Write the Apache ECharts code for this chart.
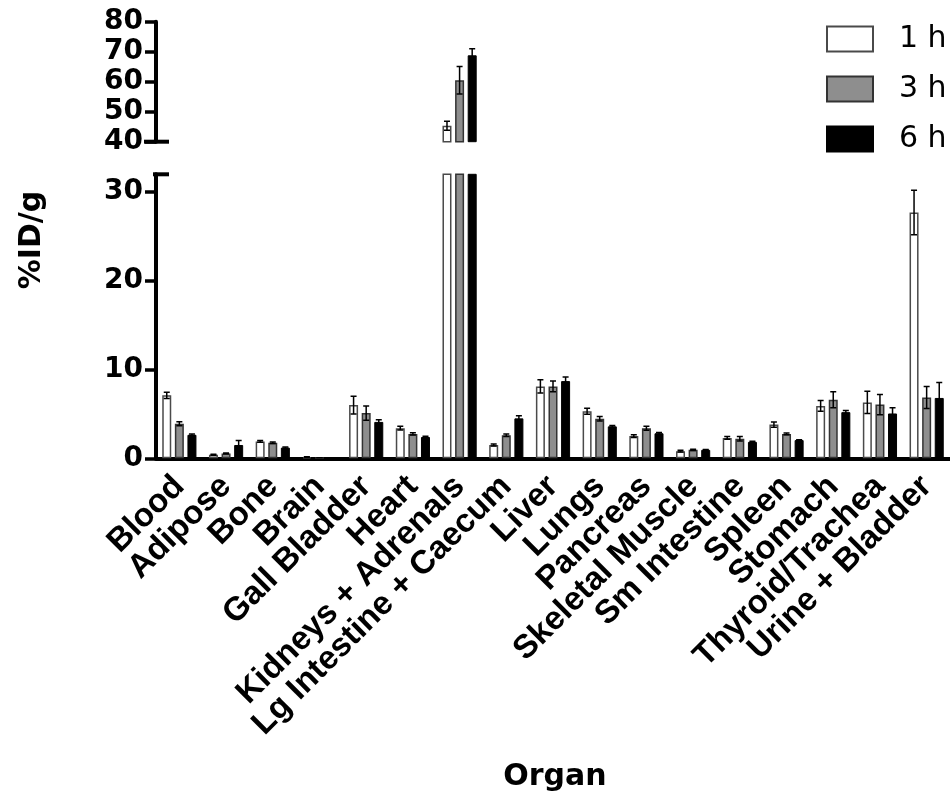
<!DOCTYPE html>
<html><head><meta charset="utf-8">
<script src="https://cdn.jsdelivr.net/npm/echarts@6/dist/echarts.min.js"></script>
<style>html,body{margin:0;padding:0;background:#fff}#c{width:950px;height:797px}</style>
</head><body><div id="c"></div>
<script>
const categories = ['Blood','Adipose','Bone','Brain','Gall Bladder','Heart','Kidneys + Adrenals','Lg Intestine + Caecum','Liver','Lungs','Pancreas','Skeletal Muscle','Sm Intestine','Spleen','Stomach','Thyroid/Trachea','Urine + Bladder'];
const seriesNames = ['1 h','3 h','6 h'];
const mean1h = [7.1, 0.4, 1.9, 0.15, 6.0, 3.4, 45.3, 1.5, 8.1, 5.3, 2.5, 0.8, 2.3, 3.8, 5.9, 6.3, 27.7];
const err1h  = [0.35,0.05,0.1, 0.02, 1.0, 0.2, 1.5, 0.1, 0.75,0.33,0.15,0.1, 0.15,0.3, 0.6, 1.25,2.5];
const mean3h = [3.9, 0.55,1.75,0.04, 5.1, 2.75,60.5, 2.6, 8.1, 4.45,3.38,0.95,2.2, 2.75,6.6, 6.05,6.85];
const err3h  = [0.22,0.05,0.08,0.01, 0.8, 0.12,4.6, 0.15,0.6, 0.25,0.22,0.08,0.25,0.1, 0.9, 1.13,1.24];
const mean6h = [2.65,1.5, 1.2, 0.03, 4.1, 2.4, 68.8, 4.5, 8.7, 3.6, 2.82,0.95,1.85,2.05,5.2, 5.05,6.8];
const err6h  = [0.08,0.5, 0.08,0.01, 0.25,0.08,2.2, 0.3, 0.45,0.1, 0.1, 0.05,0.08,0.05,0.2, 0.64,1.73];
const upperTicks = [40,50,60,70,80];
const lowerTicks = [0,10,20,30];

const means = [mean1h, mean3h, mean6h];
const errs = [err1h, err3h, err6h];
const BW = 9, GAP = 0.4;
const itemStyles = [
  {color:'#ffffff', borderColor:'#4a4a4a', borderWidth:1.5},
  {color:'#8e8e8e', borderColor:'#333333', borderWidth:1.5},
  {color:'#000000', borderColor:'#000000', borderWidth:1}
];
const LEFT = 156, WIDTH = 795;
const chart = echarts.init(document.getElementById('c'));

const labelFont = {fontFamily:'DejaVu Sans', fontWeight:'bold', fontSize:28, color:'#000'};
function yAxisCfg(gi, min, max, ticks){
  return {
    type:'value', gridIndex:gi, min:min, max:max, interval:10,
    axisLine:{show:true, lineStyle:{color:'#000', width:4}},
    axisTick:{show:true, length:11, lineStyle:{color:'#000', width:3.5}, customValues:ticks},
    axisLabel:Object.assign({margin:13, customValues:ticks}, labelFont),
    splitLine:{show:false}
  };
}
function errSeries(s, gi){
  return {
    type:'custom', xAxisIndex:gi, yAxisIndex:gi, clip:true, silent:true, z:5,
    data: categories.map((c,i)=>[i, means[s][i], errs[s][i]]),
    encode:{x:0, y:1},
    renderItem(params, api){
      const i = api.value(0), m = api.value(1), e = api.value(2);
      const off = (s-1)*BW*(1+GAP);
      const t = api.coord([i, m+e]), b = api.coord([i, m-e]);
      const x = t[0] + off, cw = 3;
      const st = {stroke:'#000', lineWidth:1.5};
      return {type:'group', children:[
        {type:'line', shape:{x1:x,y1:t[1],x2:x,y2:b[1]}, style:st},
        {type:'line', shape:{x1:x-cw,y1:t[1],x2:x+cw,y2:t[1]}, style:st},
        {type:'line', shape:{x1:x-cw,y1:b[1],x2:x+cw,y2:b[1]}, style:st}
      ]};
    }
  };
}
const series = [];
[0,1].forEach(gi=>{
  for(let s=0;s<3;s++){
    series.push({type:'bar', name:seriesNames[s], xAxisIndex:gi, yAxisIndex:gi,
      data:means[s], barWidth:BW, barGap:(GAP*100)+'%', itemStyle:itemStyles[s], clip:true, silent:true});
  }
  for(let s=0;s<3;s++) series.push(errSeries(s, gi));
});

chart.setOption({
  animation:false,
  backgroundColor:'#fff',
  grid:[
    {left:LEFT, width:WIDTH, top:21.7, height:120},
    {left:LEFT, width:WIDTH, top:174.3, height:284}
  ],
  xAxis:[
    {type:'category', gridIndex:0, data:categories, show:false},
    {type:'category', gridIndex:1, data:categories,
      axisLine:{lineStyle:{color:'#000', width:4}},
      axisTick:{alignWithLabel:true, length:13, lineStyle:{color:'#000', width:4}},
      axisLabel:{rotate:45, interval:0, margin:23, fontFamily:'Liberation Sans', fontWeight:'bold', fontSize:33, color:'#000'}
    }
  ],
  yAxis:[ yAxisCfg(0, 40, 80, upperTicks), yAxisCfg(1, 0, 32, lowerTicks) ],
  legend:{
    data:seriesNames, orient:'vertical', left:826, top:24, padding:0, itemWidth:46, itemHeight:25, itemGap:20,
    icon:'rect',
    textStyle:{fontFamily:'DejaVu Sans', fontSize:30, color:'#000', padding:[0,0,0,21], lineHeight:25}
  },
  series:series
});

const y40 = chart.convertToPixel({yAxisIndex:0}, 40);
const y32 = chart.convertToPixel({yAxisIndex:1}, 32);
chart.setOption({
  graphic:[
    {type:'line', shape:{x1:144, y1:y40, x2:169, y2:y40}, style:{stroke:'#000', lineWidth:4}, z:100},
    {type:'line', shape:{x1:153, y1:y32, x2:169, y2:y32}, style:{stroke:'#000', lineWidth:4}, z:100},
    {type:'text', x:32, y:240, rotation:Math.PI/2,
      style:{text:'%ID/g', fontFamily:'DejaVu Sans', fontWeight:'bold', fontSize:30, fill:'#000', align:'center', verticalAlign:'middle'}},
    {type:'text', x:555, y:777,
      style:{text:'Organ', fontFamily:'DejaVu Sans', fontWeight:'bold', fontSize:30, fill:'#000', align:'center', verticalAlign:'middle'}}
  ]
});
</script></body></html>
